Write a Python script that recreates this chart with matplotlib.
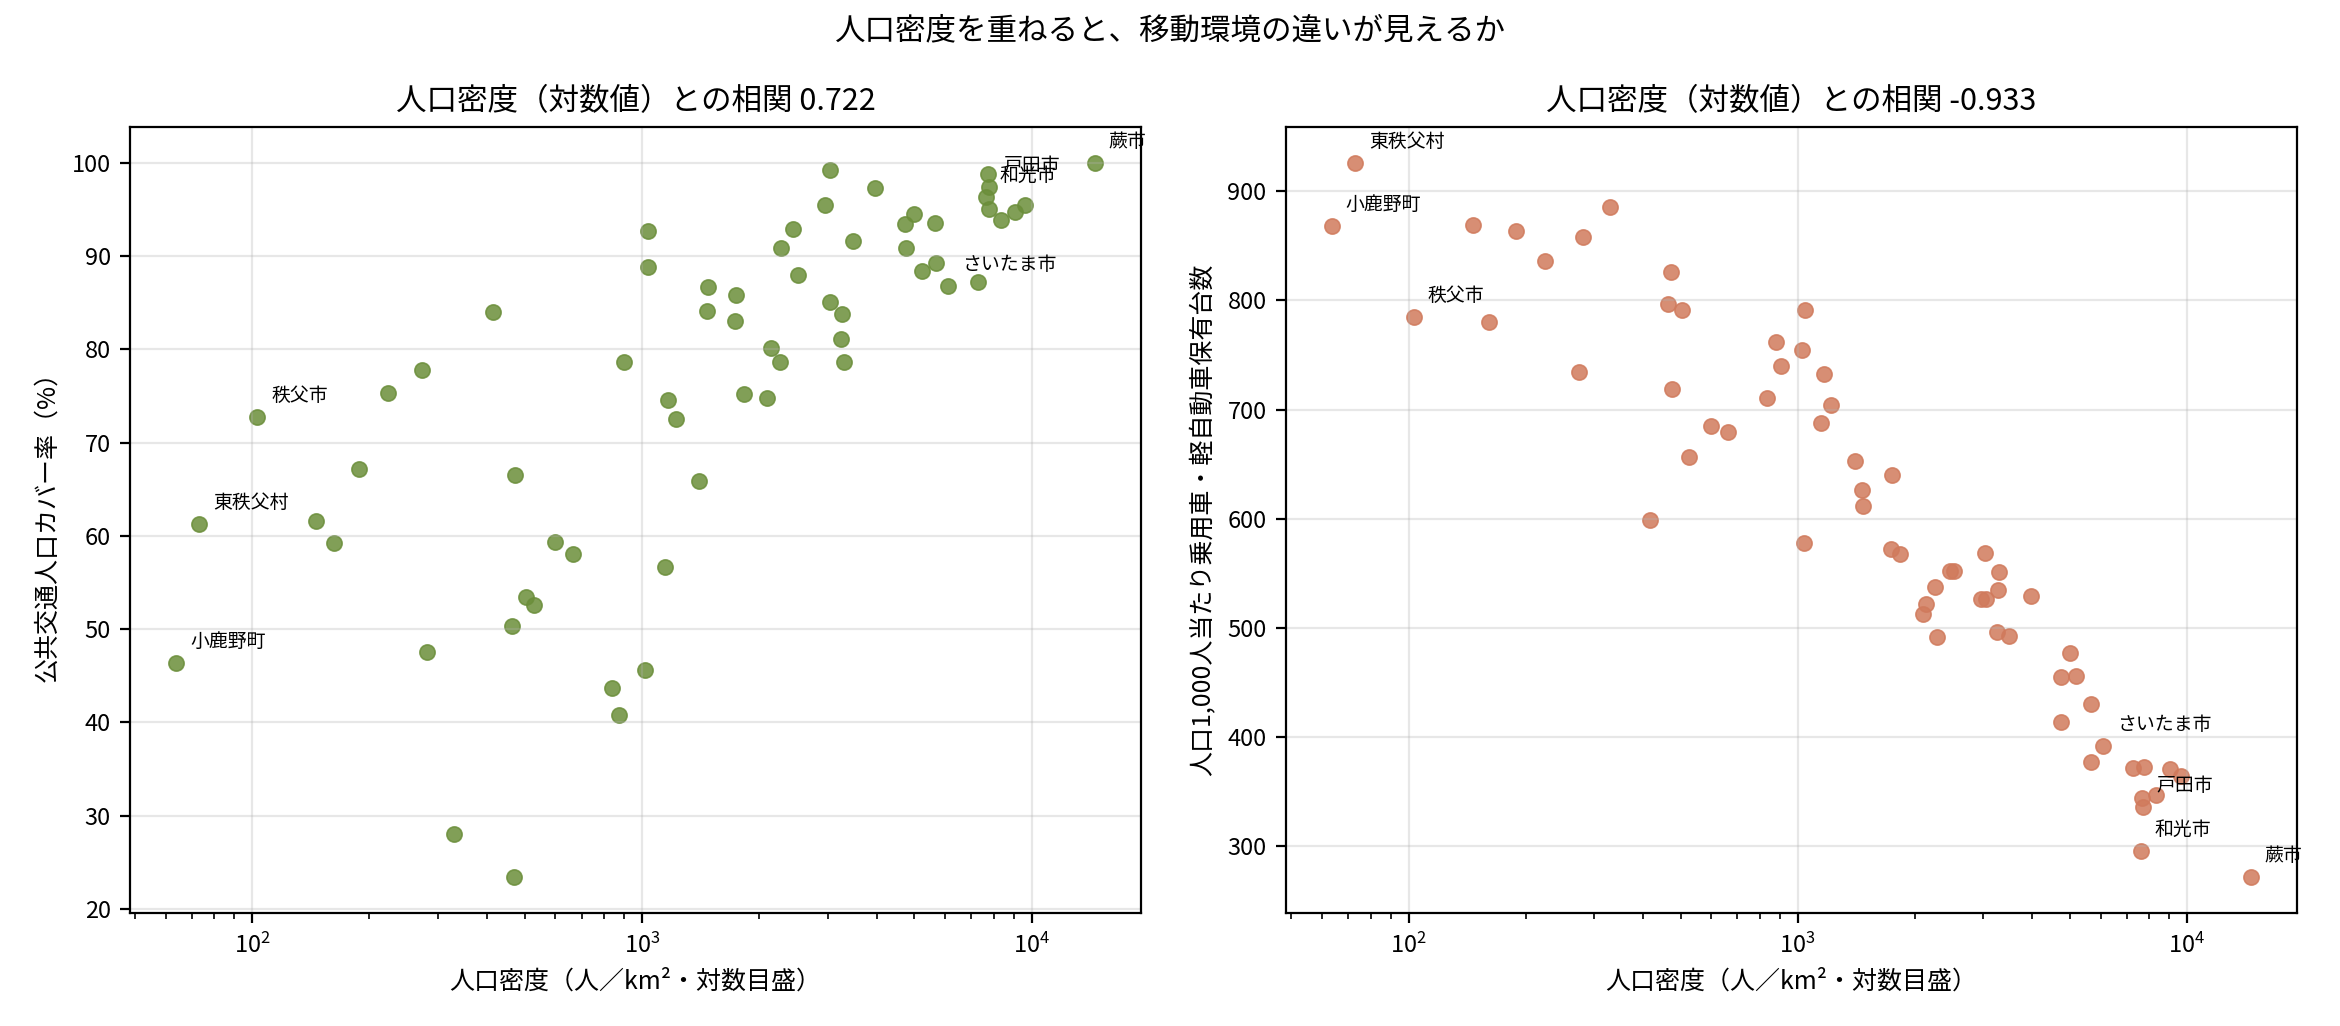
import matplotlib
matplotlib.use('Agg')
import matplotlib.pyplot as plt

plt.rcParams['font.family'] = ['Noto Sans CJK JP', 'DejaVu Sans']

# colors
c_green = '#6b8e3a'
c_red = '#d07a5c'

# 左: 人口密度 と 公共交通人口カバー率
dens_cover = [63.8, 73.0, 103, 146, 162, 188, 223, 272, 281, 329, 415, 464, 470, 472,
              505, 528, 599, 666, 838, 876, 901, 1018, 1038, 1038, 1147, 1168, 1220,
              1401, 1465, 1479, 1736, 1743, 1830, 2097, 2143, 2260, 2278, 2445, 2518,
              2954, 3037, 3037, 3241, 3266, 3299, 3485, 3963, 4730, 4757, 4989, 5221,
              5648, 5681, 6109, 7295, 7707, 7785, 7632, 7769, 8356, 9060, 9614, 14540]
cover = [46.4, 61.3, 72.7, 61.6, 59.2, 67.2, 75.3, 77.8, 47.6, 28.0, 84.0, 50.3, 23.4, 66.5,
         53.4, 52.6, 59.3, 58.1, 43.7, 40.8, 78.6, 45.6, 92.7, 88.8, 56.7, 74.6, 72.5,
         65.9, 84.1, 86.7, 83.0, 85.8, 75.2, 74.75, 80.15, 78.6, 90.9, 92.9, 88.0,
         95.45, 99.2, 85.1, 81.1, 83.8, 78.7, 91.6, 97.3, 93.4, 90.9, 94.5, 88.4,
         93.5, 89.3, 86.8, 87.2, 98.8, 97.4, 96.3, 95.0, 93.9, 94.7, 95.5, 100.0]
labels_cover = {0: '小鹿野町', 1: '東秩父村', 2: '秩父市', 53: 'さいたま市',
                56: '戸田市', 57: '和光市', 62: '蕨市'}

# 右: 人口密度 と 人口1,000人当たり乗用車・軽自動車保有台数
dens_cars = [72.8, 63.6, 146.2, 188.6, 329.8, 281.3, 223.8, 471.3, 103.2, 161.4, 464.9,
             502.9, 273.5, 474, 597, 663.7, 527, 416, 1042, 877, 1023, 904, 1168, 836,
             1220, 1150, 1406, 1747, 1466, 1472, 1040, 1736, 1834, 3032, 3293, 2460,
             2519, 2256, 3273, 3979, 2955, 3039, 2135, 2101, 2279, 3249, 3494, 5010,
             4742, 5191, 5672, 4750, 6087, 5672, 7286, 7743, 9030, 9675, 8329, 7683,
             7695, 7606, 14600]
cars = [926.0, 868.4, 869.3, 863.8, 885.7, 858.3, 836.4, 826.3, 785.2, 780.6, 797.1,
        791.6, 734.6, 718.5, 684.6, 679.2, 656.3, 598.7, 791.6, 762.3, 755.0, 740.4,
        732.2, 710.2, 703.8, 687.9, 652.6, 639.8, 626.1, 611.5, 577.7, 572.2, 567.6,
        568.8, 551.2, 552.1, 552.1, 537.5, 534.7, 529.2, 526.8, 526.8, 521.6, 512.8,
        491.8, 496.3, 492.7, 477.2, 455.5, 456.1, 430.5, 414.1, 392.1, 377.5, 371.4,
        372.9, 370.8, 364.4, 347.3, 343.9, 336.4, 295.5, 271.7]
labels_cars = {0: '東秩父村', 1: '小鹿野町', 8: '秩父市', 52: 'さいたま市',
               60: '戸田市', 61: '和光市', 62: '蕨市'}

fig = plt.figure(figsize=(11.7, 5.13), dpi=200)
ax1 = fig.add_axes([0.0556, 0.1101, 0.432, 0.766])
ax2 = fig.add_axes([0.5496, 0.1101, 0.432, 0.766])

panels = [
    (ax1, dens_cover, cover, labels_cover, c_green,
     '人口密度（対数値）との相関 0.722', '公共交通人口カバー率（%）'),
    (ax2, dens_cars, cars, labels_cars, c_red,
     '人口密度（対数値）との相関 -0.933', '人口1,000人当たり乗用車・軽自動車保有台数'),
]

for ax, xs, ys, labs, col, title, ylabel in panels:
    ax.scatter(xs, ys, s=30, color=col, alpha=0.85, linewidths=0.6)
    ax.set_xscale('log')
    for i, name in labs.items():
        ax.annotate(name, (xs[i], ys[i]), xytext=(5, 4), textcoords='offset points',
                    fontsize=6.8, ha='left', va='bottom')
    ax.set_title(title, fontsize=11)
    ax.set_xlabel('人口密度（人／km²・対数目盛）', fontsize=9)
    ax.set_ylabel(ylabel, fontsize=9)
    ax.tick_params(labelsize=8.5)
    ax.grid(True, alpha=0.3)

fig.suptitle('人口密度を重ねると、移動環境の違いが見えるか', fontsize=11, y=0.985)

fig.savefig('out.png', dpi=200)
